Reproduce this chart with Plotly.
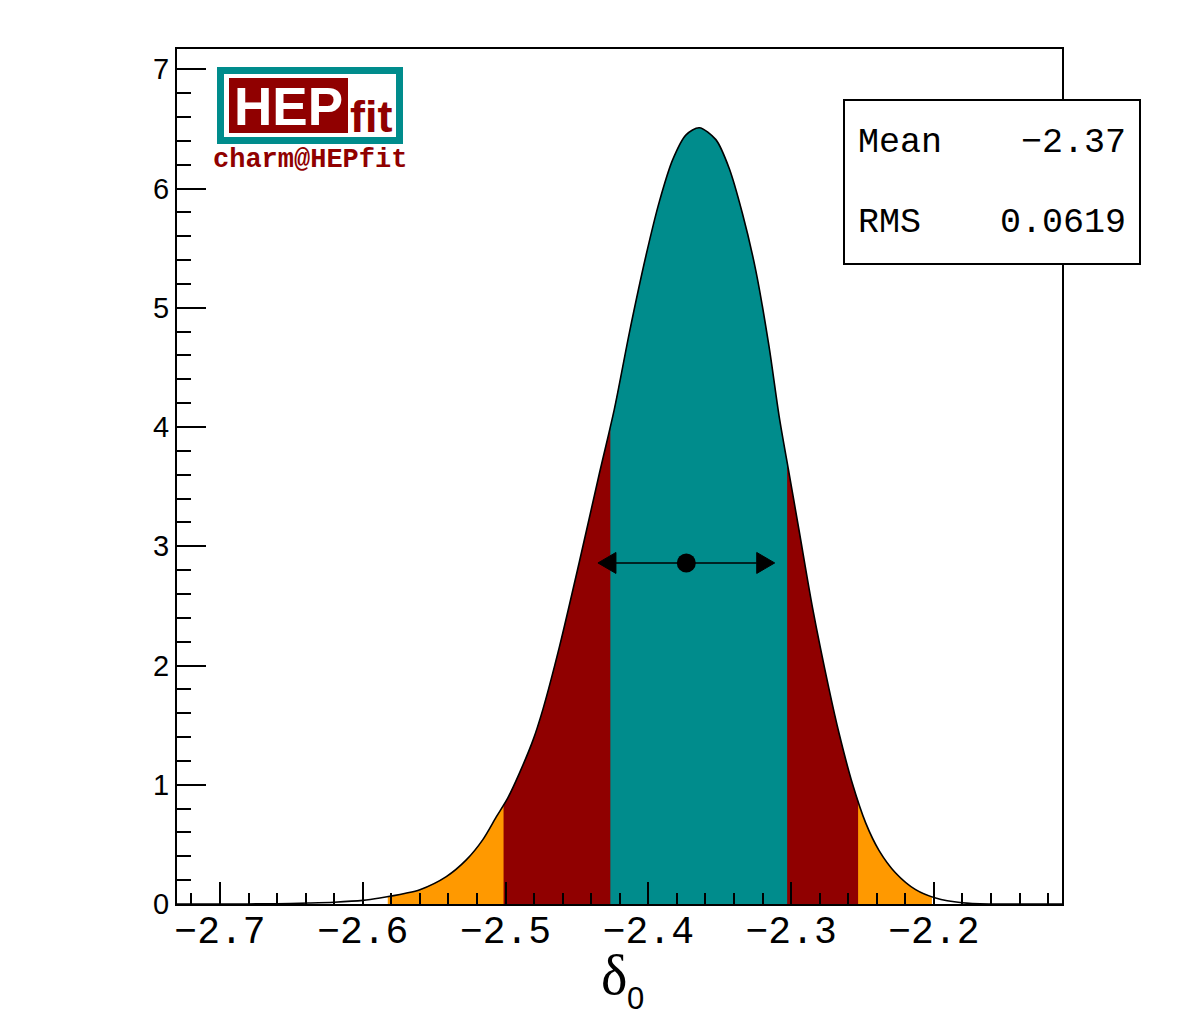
import numpy as np
import plotly.graph_objects as go

# ---------------- data ----------------
curve_x = [-2.7301, -2.70, -2.66, -2.638, -2.62, -2.60, -2.588, -2.570, -2.560, -2.5415,
           -2.5275, -2.5159, -2.5065, -2.4984, -2.4902, -2.4809, -2.4739, -2.4622, -2.4483,
           -2.4343, -2.4238, -2.4133, -2.4016, -2.3923, -2.3830, -2.3736, -2.3643, -2.3527,
           -2.3434, -2.3341, -2.3247, -2.3154, -2.3084, -2.3014, -2.2944, -2.2851, -2.2734,
           -2.2664, -2.2571, -2.2478, -2.2385, -2.2268, -2.2128, -2.1988, -2.1802, -2.16, -2.1103]
curve_y = [0.0, 0.0, 0.002, 0.008, 0.015, 0.03, 0.05, 0.09, 0.12, 0.23,
           0.37, 0.54, 0.73, 0.89, 1.10, 1.37, 1.63, 2.16, 2.87,
           3.61, 4.15, 4.79, 5.44, 5.89, 6.24, 6.45, 6.51, 6.41,
           6.17, 5.79, 5.31, 4.67, 4.09, 3.61, 3.13, 2.49, 1.80,
           1.43, 1.01, 0.68, 0.45, 0.26, 0.12, 0.05, 0.01, 0.0, 0.0]

# probability intervals (low, high) : 99.7%, 95%, 68%
interval_names = ["3sigma", "2sigma", "1sigma"]
interval_low = [-2.5825, -2.5014, -2.4266]
interval_high = [-2.2014, -2.2531, -2.3028]
interval_colors = ["#FF9900", "#900000", "#008C8C"]

mean_val = -2.3734
rms_val = 0.0619
marker_height = 2.86
stats_labels = ["Mean", "RMS"]
stats_values = ["\u22122.37", "0.0619"]

x_tick0 = -2.7
x_dtick = 0.1
y_ticks = [0, 1, 2, 3, 4, 5, 6, 7]

# ---------------- layout geometry ----------------
W, H = 1182, 1017
L, R, T, B = 177, 120, 49, 113
PW = W - L - R
PH = H - T - B


def px(xp):
    return (xp - L) / PW


def py(yp):
    return (H - B - yp) / PH


cx = np.array(curve_x)
cy = np.array(curve_y)
SMOOTH = 0.8

fig = go.Figure()

# filled credibility regions
for lo, hi, col in zip(interval_low, interval_high, interval_colors):
    inside = (cx > lo) & (cx < hi)
    xs = np.concatenate([[lo], cx[inside], [hi]])
    ys = np.concatenate([[np.interp(lo, cx, cy)], cy[inside], [np.interp(hi, cx, cy)]])
    fig.add_trace(go.Scatter(x=xs, y=ys, mode="lines", fill="tozeroy", fillcolor=col,
                             line=dict(width=0, color=col, shape="spline", smoothing=SMOOTH),
                             hoverinfo="skip", showlegend=False))

# curve
fig.add_trace(go.Scatter(x=curve_x, y=curve_y, mode="lines",
                         line=dict(color="black", width=1.6, shape="spline", smoothing=SMOOTH),
                         showlegend=False))

# mean +- rms arrow
left_tip = mean_val - rms_val
right_tip = mean_val + rms_val
head_len = 0.0126
head_half = 0.088
fig.add_trace(go.Scatter(x=[left_tip + head_len, right_tip - head_len], y=[marker_height, marker_height],
                         mode="lines", line=dict(color="black", width=1.6), showlegend=False))
for tip, sgn in [(left_tip, 1), (right_tip, -1)]:
    fig.add_trace(go.Scatter(x=[tip, tip + sgn * head_len, tip + sgn * head_len, tip],
                             y=[marker_height, marker_height + head_half, marker_height - head_half, marker_height],
                             mode="lines", fill="toself", fillcolor="black",
                             line=dict(color="black", width=1), showlegend=False))
fig.add_trace(go.Scatter(x=[mean_val], y=[marker_height], mode="markers",
                         marker=dict(color="black", size=19), showlegend=False))

mono = "Liberation Mono, Courier New, monospace"
sans = "Liberation Sans, Arial, sans-serif"

fig.update_layout(
    width=W, height=H,
    margin=dict(l=L, r=R, t=T, b=B, pad=0),
    paper_bgcolor="white", plot_bgcolor="white",
    xaxis=dict(range=[curve_x[0], curve_x[-1]], tick0=x_tick0, dtick=x_dtick, tickformat=".1f",
               ticks="inside", ticklen=22, tickwidth=2, tickcolor="black",
               minor=dict(ticks="inside", ticklen=11, tickwidth=2, tickcolor="black", dtick=0.02, tick0=x_tick0),
               showline=True, linewidth=2, linecolor="black", mirror=True,
               showgrid=False, zeroline=False, ticklabelstandoff=-9,
               tickfont=dict(family=mono, size=38, color="black")),
    yaxis=dict(range=[0, 7.17], tickvals=y_ticks,
               ticks="inside", ticklen=29, tickwidth=2, tickcolor="black",
               minor=dict(ticks="inside", ticklen=14, tickwidth=2, tickcolor="black", dtick=0.2, tick0=0),
               showline=True, linewidth=2, linecolor="black", mirror=True,
               showgrid=False, zeroline=False,
               tickfont=dict(family=sans, size=29, color="black")),
)

shapes = []
annotations = []

# stats box
shapes.append(dict(type="rect", xref="paper", yref="paper", layer="above",
                   x0=px(844), x1=px(1140), y0=py(264), y1=py(100),
                   line=dict(color="black", width=2), fillcolor="white"))
for i, (lab, val) in enumerate(zip(stats_labels, stats_values)):
    yy = py(143 + 80 * i)
    annotations.append(dict(xref="paper", yref="paper", x=px(856), y=yy, text=lab, showarrow=False,
                            xanchor="left", yanchor="middle", font=dict(family=mono, size=35, color="black")))
    annotations.append(dict(xref="paper", yref="paper", x=px(1128), y=yy, text=val, showarrow=False,
                            xanchor="right", yanchor="middle", font=dict(family=mono, size=35, color="black")))

# logo
shapes.append(dict(type="rect", xref="paper", yref="paper", layer="above",
                   x0=px(220.5), x1=px(399.5), y0=py(140.5), y1=py(70.5),
                   line=dict(color="#008C8C", width=7), fillcolor="white"))
shapes.append(dict(type="rect", xref="paper", yref="paper", layer="above",
                   x0=px(229), x1=px(348), y0=py(133), y1=py(78),
                   line=dict(width=0), fillcolor="#900000"))
annotations.append(dict(xref="paper", yref="paper", x=px(288.5), y=py(107), text="<b>HEP</b>", showarrow=False,
                        xanchor="center", yanchor="middle", font=dict(family=sans, size=53, color="white")))
annotations.append(dict(xref="paper", yref="paper", x=px(371), y=py(117), text="<b>fit</b>", showarrow=False,
                        xanchor="center", yanchor="middle", font=dict(family="Liberation Sans Narrow, " + sans, size=45, color="#900000")))
annotations.append(dict(xref="paper", yref="paper", x=px(310), y=py(160), text="<b>charm@HEPfit</b>", showarrow=False,
                        xanchor="center", yanchor="middle", font=dict(family=mono, size=27, color="#900000")))

# x-axis title
annotations.append(dict(xref="paper", yref="paper", x=px(614), y=py(975), text="\u03b4", showarrow=False,
                        xanchor="center", yanchor="middle", font=dict(family="Liberation Serif, Times New Roman, serif", size=56, color="black")))
annotations.append(dict(xref="paper", yref="paper", x=px(635), y=py(998), text="0", showarrow=False,
                        xanchor="center", yanchor="middle", font=dict(family=sans, size=31, color="black")))

fig.update_layout(shapes=shapes, annotations=annotations)

fig.write_html("out.html")
